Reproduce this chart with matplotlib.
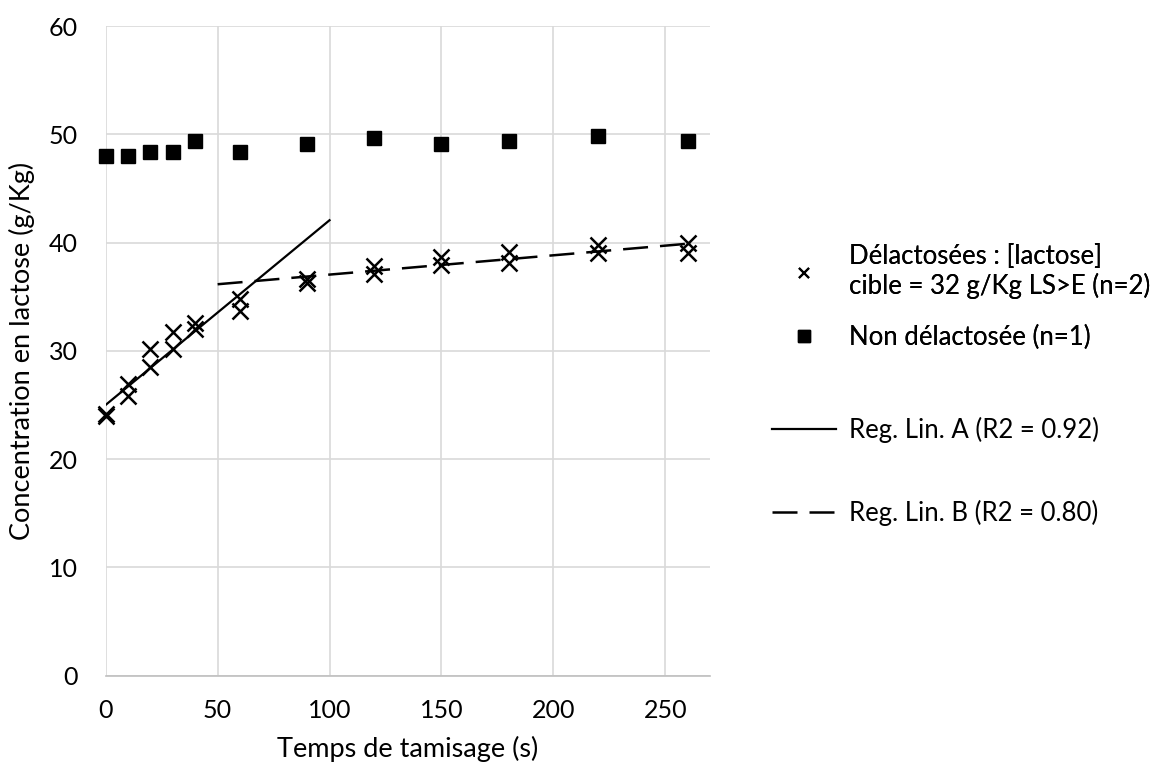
import numpy as np
import matplotlib.pyplot as plt
from matplotlib.lines import Line2D

plt.rcParams['font.family'] = ['Lato', 'DejaVu Sans']

# temps de tamisage (s)
t_delac = np.array([0, 0, 10, 10, 20, 20, 30, 30, 40, 40, 60, 60,
                    90, 90, 120, 120, 150, 150, 180, 180, 220, 220, 260, 260])
c_delac = np.array([24.0, 24.2, 26.9, 25.8, 30.2, 28.5, 31.7, 30.2, 32.6, 32.0, 34.8, 33.7,
                    36.6, 36.3, 37.8, 37.1, 38.7, 37.9, 39.1, 38.1, 39.8, 39.0, 40.0, 39.0])

t_non = np.array([0, 10, 20, 30, 40, 60, 90, 120, 150, 180, 220, 260])
c_non = np.array([48.0, 48.0, 48.4, 48.4, 49.4, 48.4, 49.1, 49.7, 49.1, 49.4, 49.8, 49.4])

# regressions: A sur 0-60 s, B sur 90-260 s
mask_a = t_delac <= 60
mask_b = t_delac >= 90
pa = np.polyfit(t_delac[mask_a], c_delac[mask_a], 1)
pb = np.polyfit(t_delac[mask_b], c_delac[mask_b], 1)
xa = np.array([0, 100])
xb = np.array([50, 260])

lab_delac = 'Délactosées : [lactose]\ncible = 32 g/Kg LS>E (n=2)'
lab_non = 'Non délactosée (n=1)'
lab_a = 'Reg. Lin. A (R2 = 0.92)'
lab_b = 'Reg. Lin. B (R2 = 0.80)'

fig = plt.figure(figsize=(11.63, 7.72), dpi=100)
ax = fig.add_axes([0.0909, 0.125, 0.5196, 0.8413])

ax.plot(xa, np.polyval(pa, xa), color='black', lw=1.6, zorder=3)
ax.plot(xb, np.polyval(pb, xb), color='black', lw=1.8, dashes=(10, 4.8), zorder=3)
ax.plot(t_delac, c_delac, ls='none', marker='x', ms=11, mew=1.8, color='black',
        zorder=4, clip_on=False)
ax.plot(t_non, c_non, ls='none', marker='s', ms=10, color='black', zorder=4, clip_on=False)

ax.set_xlim(0, 270)
ax.set_ylim(0, 60)
ax.set_xticks(np.arange(0, 251, 50))
ax.set_yticks(np.arange(0, 61, 10))
ax.grid(True, color='#d9d9d9', lw=1.2)
ax.set_axisbelow(True)
for s in ['top', 'right', 'left']:
    ax.spines[s].set_visible(False)
ax.spines['bottom'].set_color('#bfbfbf')
ax.spines['bottom'].set_linewidth(1.2)
ax.tick_params(length=0, labelsize=18, colors='black')
ax.tick_params(axis='x', pad=17)
ax.tick_params(axis='y', pad=20)
ax.set_xlabel('Temps de tamisage (s)', fontsize=19.5, labelpad=10)
ax.set_ylabel('Concentration en lactose (g/Kg)', fontsize=19.5, labelpad=10)

h_delac = Line2D([], [], ls='none', marker='x', ms=7, mew=1.5, color='black')
h_non = Line2D([], [], ls='none', marker='s', ms=9, color='black')
h_a = Line2D([], [], color='black', lw=1.6)
h_b = Line2D([], [], color='black', lw=1.8, dashes=(10, 4.8))

leg1 = fig.legend([h_delac, h_non], [lab_delac, lab_non], loc='center left',
                  bbox_to_anchor=(0.644, 0.615), frameon=False, fontsize=18.5,
                  handlelength=2.5, handletextpad=0.5, labelspacing=1.0)
fig.add_artist(leg1)
fig.legend([h_a, h_b], [lab_a, lab_b], loc='center left',
           bbox_to_anchor=(0.644, 0.389), frameon=False, fontsize=18.5,
           handlelength=2.5, handletextpad=0.5, labelspacing=2.2)

fig.savefig('out.png', dpi=100)
